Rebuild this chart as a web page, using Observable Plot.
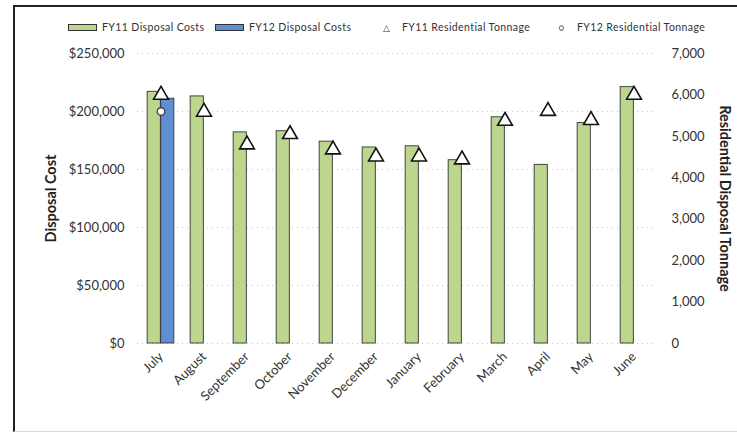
<!DOCTYPE html>
<html>
<head>
<meta charset="utf-8">
<script src="https://cdn.jsdelivr.net/npm/d3@7"></script>
<script src="https://cdn.jsdelivr.net/npm/@observablehq/plot@0.6"></script>
<style>
  html, body { margin: 0; padding: 0; background: #fff; }
  body { width: 737px; height: 434px; overflow: hidden; font-family: Lato, "Open Sans", sans-serif; }
  #frame { position: absolute; left: 13px; top: 5px; width: 724px; height: 424px;
           border-left: 2px solid #222; border-top: 2px solid #222; border-bottom: 1px solid #d8d8d8; }
  #legend { position: absolute; left: 0; top: 14px; width: 722px; height: 16px; font-size: 10.5px; color: #333; letter-spacing: 0.4px; }
  .item { position: absolute; display: flex; align-items: center; white-space: nowrap; }
  .sw { display: inline-block; width: 27px; height: 5px; border: 1px solid #333; margin-right: 5px; }
  .sym { display: inline-block; width: 14px; text-align: center; margin-right: 8px; font-size: 9px; }
  #chart { position: absolute; left: 0; top: 29px; }
</style>
</head>
<body>
<div id="frame">
  <div id="legend"></div>
  <div id="chart"></div>
</div>
<script>
const months = ["July","August","September","October","November","December","January","February","March","April","May","June"];
const fy11Cost = [217000, 213000, 182000, 183000, 174000, 169000, 170000, 158000, 195000, 154000, 190000, 221000];
const fy12Months = ["July"];
const fy12Cost = [211000];
const fy11Tons = [6000, 5590, 4800, 5050, 4680, 4510, 4510, 4440, 5370, 5610, 5390, 6000];
const fy12Tons = [5600];
const costTicks = [0, 50000, 100000, 150000, 200000, 250000];
const tonTicks = [0, 1000, 2000, 3000, 4000, 5000, 6000, 7000];

const costMax = 250000, tonMax = 7000;
const k = costMax / tonMax; // tonnage -> cost axis

const green = "#bdd68e", blue = "#5f8fd3";

const fy11 = months.map((m, i) => ({month: m, cost: fy11Cost[i], tons: fy11Tons[i]}));
const fy12 = fy12Months.map((m, i) => ({month: m, cost: fy12Cost[i], tons: fy12Tons[i]}));

// legend
const legendItems = [
  {x: 53, html: `<span class="sw" style="background:${green}"></span>FY11 Disposal Costs`},
  {x: 200, html: `<span class="sw" style="background:${blue}"></span>FY12 Disposal Costs`},
  {x: 365, html: `<span class="sym">&#9651;</span>FY11 Residential Tonnage`},
  {x: 540, html: `<span class="sym">&#9675;</span>FY12 Residential Tonnage`}
];
const leg = document.getElementById("legend");
for (const it of legendItems) {
  const d = document.createElement("div");
  d.className = "item"; d.style.left = it.x + "px"; d.innerHTML = it.html;
  leg.appendChild(d);
}

const W = 722, H = 395;
const mL = 122, mR = 80, mT = 17, mB = 88;
const band = (W - mL - mR) / months.length;
const bw = 13.5;
const half = band / 2;

const chart = Plot.plot({
  width: W, height: H,
  marginLeft: mL, marginRight: mR, marginTop: mT, marginBottom: mB,
  style: {fontFamily: "Lato, 'Open Sans', sans-serif", fontSize: "13px", color: "#333", background: "transparent"},
  x: {domain: months, padding: 0, label: null},
  y: {domain: [0, costMax], label: null},
  marks: [
    Plot.gridY(costTicks, {stroke: "#c4c4c4", strokeOpacity: 1, strokeDasharray: "1,4", strokeWidth: 1}),
    Plot.barY(fy11, {x: "month", y: "cost", fill: green, stroke: "#333", strokeWidth: 0.9,
      insetLeft: half - bw, insetRight: half}),
    Plot.barY(fy12, {x: "month", y: "cost", fill: blue, stroke: "#333", strokeWidth: 0.9,
      insetLeft: half, insetRight: half - bw}),
    Plot.dot(fy11, {x: "month", y: d => d.tons * k, symbol: "triangle", r: 5.5, fill: "white", stroke: "#111", strokeWidth: 1.6}),
    Plot.dot(fy12, {x: "month", y: d => d.tons * k, symbol: "circle", r: 3.8, fill: "white", stroke: "#444", strokeWidth: 1.4}),
    Plot.axisY({anchor: "left", ticks: costTicks, tickSize: 0, tickPadding: 13,
      tickFormat: d => "$" + d3.format(",")(d),
      label: "Disposal Cost", labelAnchor: "center", labelOffset: 92, labelArrow: "none"}),
    Plot.axisY({anchor: "right", ticks: tonTicks.map(t => t * k), tickSize: 0, tickPadding: 14,
      tickFormat: d => d3.format(",")(Math.round(d / k)),
      label: "Residential Disposal Tonnage", labelAnchor: "center", labelOffset: 62, labelArrow: "none"}),
    Plot.axisX({tickSize: 0, tickRotate: -45, tickPadding: 11, label: null, fontSize: "13px"})
  ]
});
document.getElementById("chart").appendChild(chart);
// bold axis titles; right title reads top-to-bottom
chart.querySelectorAll("text").forEach(el => {
  const t = el.textContent;
  if (t === "Disposal Cost" || t === "Residential Disposal Tonnage") {
    el.style.fontWeight = "bold"; el.style.fontSize = "14.5px"; el.style.fill = "#222";
    if (t === "Residential Disposal Tonnage") {
      const tr = el.getAttribute("transform") || "";
      el.setAttribute("transform", tr.replace("rotate(-90)", "rotate(90)"));
    }
  }
});
</script>
</body>
</html>
